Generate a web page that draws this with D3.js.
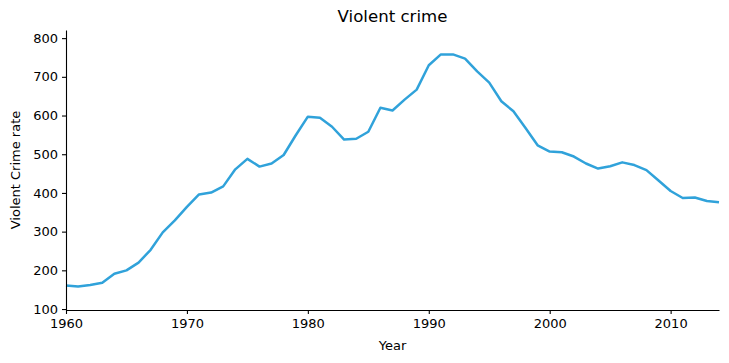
<!DOCTYPE html>
<html lang="en">
<head>
<meta charset="UTF-8">
<title>Violent crime</title>
<style>
  body { margin: 0; background: #fff; }
  svg { display: block; font-family: "DejaVu Sans", sans-serif; }
  .tick text { font-size: 13px; fill: #000; }
  .tick line, .domain { stroke: #000; stroke-width: 1.1px; }
</style>
<script src="https://d3js.org/d3.v7.min.js"></script>
</head>
<body>
<div id="chart"></div>
<script>
// violent crime rate per 100k
const years = d3.range(1960, 2015);
const rates = [
  161, 158, 162, 168, 191, 200, 220, 253, 298, 329,
  364, 396, 401, 417, 461, 488, 468, 476, 498, 549,
  597, 594, 571, 538, 540, 558, 620, 613, 641, 667,
  730, 758, 758, 747, 714, 685, 637, 611, 568, 523,
  507, 505, 494, 476, 463, 469, 479, 472, 459, 432,
  405, 387, 388, 379, 376
];
const xTicks = [1960, 1970, 1980, 1990, 2000, 2010];
const yTicks = [100, 200, 300, 400, 500, 600, 700, 800];

const W = 729, H = 363;
const m = { top: 30, right: 10, bottom: 53, left: 66 };

const svg = d3.select("#chart").append("svg")
  .attr("width", W).attr("height", H);

const x = d3.scaleLinear().domain([1960, 2014]).range([m.left, W - m.right]);
const y = d3.scaleLinear().domain([97.5, 821]).range([H - m.bottom, m.top]);

const data = years.map((yr, i) => ({ yr, v: rates[i] }));

svg.append("path")
  .datum(data)
  .attr("fill", "none")
  .attr("stroke", "#30a2da")
  .attr("stroke-width", 2.5)
  .attr("stroke-linejoin", "round")
  .attr("d", d3.line().x(d => x(d.yr)).y(d => y(d.v)));

svg.append("g")
  .attr("transform", `translate(0,${H - m.bottom})`)
  .call(d3.axisBottom(x).tickValues(xTicks).tickFormat(d3.format("d")).tickSize(4).tickPadding(5).tickSizeOuter(0));

svg.append("g")
  .attr("transform", `translate(${m.left},0)`)
  .call(d3.axisLeft(y).tickValues(yTicks).tickSize(4).tickPadding(4).tickSizeOuter(0));

svg.selectAll(".tick text").attr("font-family", "DejaVu Sans").attr("font-size", 13);

svg.append("text")
  .attr("x", (m.left + W - m.right) / 2).attr("y", 22)
  .attr("text-anchor", "middle").attr("font-size", 16.6)
  .text("Violent crime");

svg.append("text")
  .attr("x", (m.left + W - m.right) / 2).attr("y", 350)
  .attr("text-anchor", "middle").attr("font-size", 13)
  .text("Year");

svg.append("text")
  .attr("transform", `translate(20,${(m.top + H - m.bottom) / 2}) rotate(-90)`)
  .attr("text-anchor", "middle").attr("font-size", 13)
  .text("Violent Crime rate");
</script>
</body>
</html>
